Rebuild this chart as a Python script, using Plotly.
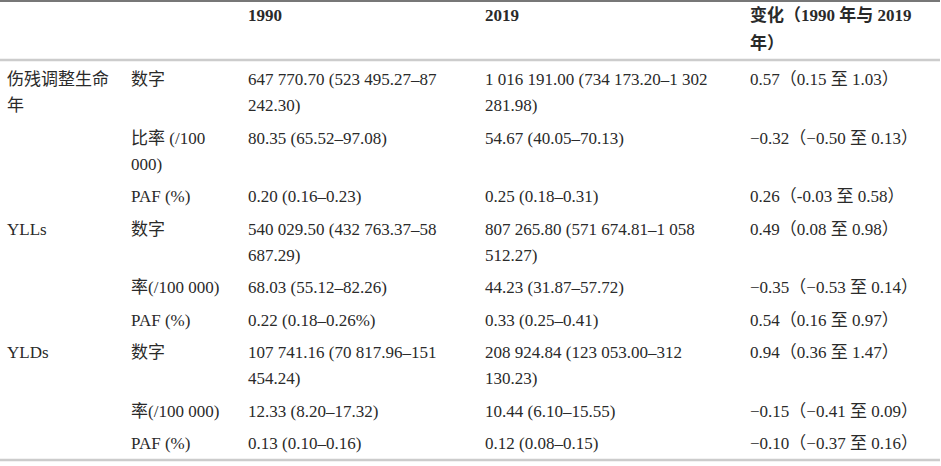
"""Table: DALYs / YLLs / YLDs, 1990 vs 2019, drawn as text marks on a pixel grid."""
import plotly.graph_objects as go

FONT = "Liberation Serif, Noto Sans CJK SC, serif"
TEXT_COLOR = "#2a2a2a"

# ---------------------------------------------------------------------------
# Data
# ---------------------------------------------------------------------------

header = ["", "", "1990", "2019", "变化（1990 年与 2019<br>年）"]

measures = ["伤残调整生命<br>年", "YLLs", "YLDs"]

metrics = [
    "数字", "比率 (/100<br>000)", "PAF (%)",
    "数字", "率(/100 000)", "PAF (%)",
    "数字", "率(/100 000)", "PAF (%)",
]

values_1990 = [
    "647 770.70 (523 495.27–87<br>242.30)",
    "80.35 (65.52–97.08)",
    "0.20 (0.16–0.23)",
    "540 029.50 (432 763.37–58<br>687.29)",
    "68.03 (55.12–82.26)",
    "0.22 (0.18–0.26%)",
    "107 741.16 (70 817.96–151<br>454.24)",
    "12.33 (8.20–17.32)",
    "0.13 (0.10–0.16)",
]

values_2019 = [
    "1 016 191.00 (734 173.20–1 302<br>281.98)",
    "54.67 (40.05–70.13)",
    "0.25 (0.18–0.31)",
    "807 265.80 (571 674.81–1 058<br>512.27)",
    "44.23 (31.87–57.72)",
    "0.33 (0.25–0.41)",
    "208 924.84 (123 053.00–312<br>130.23)",
    "10.44 (6.10–15.55)",
    "0.12 (0.08–0.15)",
]

changes = [
    "0.57（0.15 至 1.03）",
    "−0.32（−0.50 至 0.13）",
    "0.26（-0.03 至 0.58）",
    "0.49（0.08 至 0.98）",
    "−0.35（−0.53 至 0.14）",
    "0.54（0.16 至 0.97）",
    "0.94（0.36 至 1.47）",
    "−0.15（−0.41 至 0.09）",
    "−0.10（−0.37 至 0.16）",
]

# ---------------------------------------------------------------------------
# Layout constants (pixel grid)
# ---------------------------------------------------------------------------

W, H = 941, 466
COL_X = [7, 131, 248, 485, 750]
LINE_STEP = 26
ROW_STEP = 32.5
HEADER_Y = 17
HEADER_STEP = 28
BODY_Y = 81
RULES = [(1, "#777777", 2), (60, "#cccccc", 2.5), (460, "#cccccc", 2.5)]


def cell_lines(text):
    return text.split("<br>") if text else []


def build_body():
    xs, ys, texts = [], [], []
    y = BODY_Y
    for r in range(len(metrics)):
        measure = measures[r // 3] if r % 3 == 0 else ""
        row = [measure, metrics[r], values_1990[r], values_2019[r], changes[r]]
        n_lines = 1
        for c, cell in enumerate(row):
            lines = cell_lines(cell)
            n_lines = max(n_lines, len(lines))
            for i, line in enumerate(lines):
                xs.append(COL_X[c])
                ys.append(y + i * LINE_STEP)
                texts.append(line)
        y += ROW_STEP + (n_lines - 1) * LINE_STEP
    return xs, ys, texts


def build_header():
    xs, ys, texts = [], [], []
    for c, cell in enumerate(header):
        for i, line in enumerate(cell_lines(cell)):
            xs.append(COL_X[c])
            ys.append(HEADER_Y + i * HEADER_STEP)
            texts.append(line)
    return xs, ys, texts


fig = go.Figure()

hx, hy, ht = build_header()
fig.add_trace(go.Scatter(
    x=hx, y=hy, text=ht, mode="text", textposition="middle right",
    textfont=dict(family=FONT, size=17, color=TEXT_COLOR, weight="bold"),
    hoverinfo="skip", showlegend=False, cliponaxis=False,
))

bx, by, bt = build_body()
fig.add_trace(go.Scatter(
    x=bx, y=by, text=bt, mode="text", textposition="middle right",
    textfont=dict(family=FONT, size=17, color=TEXT_COLOR),
    hoverinfo="skip", showlegend=False, cliponaxis=False,
))

for y, color, width in RULES:
    fig.add_shape(
        type="line", xref="x", yref="y", x0=0, x1=W - 1, y0=y, y1=y,
        line=dict(color=color, width=width),
    )

fig.update_layout(
    width=W, height=H,
    margin=dict(l=0, r=0, t=0, b=0),
    paper_bgcolor="white", plot_bgcolor="white",
    xaxis=dict(range=[0, W], visible=False, fixedrange=True),
    yaxis=dict(range=[H, 0], visible=False, fixedrange=True),
)

# page body has a default 8px margin; drop it so the figure fills the window
fig.write_html(
    "out.html",
    config={"displayModeBar": False},
    post_script="document.body.style.margin = '0';",
)
